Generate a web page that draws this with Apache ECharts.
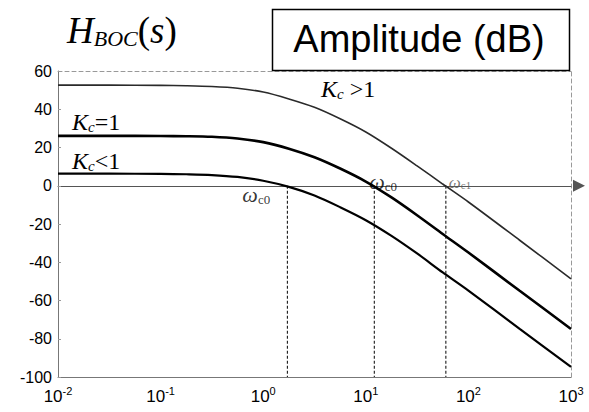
<!DOCTYPE html>
<html>
<head>
<meta charset="utf-8">
<script src="https://cdn.jsdelivr.net/npm/echarts@6/dist/echarts.min.js"></script>
<style>
  html, body { margin: 0; padding: 0; background: #fff; }
  #chart { width: 589px; height: 412px; }
</style>
</head>
<body>
<div id="chart"></div>
<script>
// Frequency points (rad/s), half-decade and quarter-decade steps
const omega = [0.01, 0.0316, 0.1, 0.178, 0.316, 0.562, 1, 1.78, 3.16, 5.62, 10, 17.8, 31.6, 56.2, 100, 316, 1000];

// Open-loop magnitude in dB for three controller gains
const gainHigh = [52.6, 52.6, 52.5, 52.3, 51.9, 51.0, 49.0, 45.4, 41.0, 35.0, 28.1, 19.6, 10.4, 0.9, -8.5, -28.5, -48.7]; // Kc > 1
const gainUnit = [26.1, 26.1, 26.0, 25.9, 25.6, 24.7, 22.8, 19.4, 14.9, 9.0, 2.2, -6.1, -15.4, -25.2, -34.9, -54.9, -74.9]; // Kc = 1
const gainLow  = [6.3, 6.3, 6.2, 6.0, 5.6, 4.6, 2.6, -0.6, -5.1, -11.2, -18.0, -26.2, -35.4, -45.3, -54.8, -74.8, -94.7];  // Kc < 1

// 0 dB crossover frequencies and their tags
const crossFreq = [1.72, 12.1, 60.3];
const crossTags = ['c0', 'c0', 'c1'];

// Axis tick labels
const xTickExp = ['-2', '-1', '0', '1', '2', '3'];
const yTicks = [60, 40, 20, 0, -20, -40, -60, -80, -100];

const SERIF = 'Liberation Serif';
const SANS = 'Liberation Sans';

const pairs = (xs, ys) => xs.map((x, i) => [x, ys[i]]);

const curve = (name, ys, color, width) => ({
  name, type: 'line', data: pairs(omega, ys),
  xAxisIndex: 0, yAxisIndex: 0,
  smooth: 0.3,
  symbol: 'none', silent: true, z: 5,
  lineStyle: { color, width }
});

const dropLine = (w) => ({
  type: 'line', data: [[w, 0], [w, -100]],
  xAxisIndex: 0, yAxisIndex: 0,
  symbol: 'none', silent: true, z: 4,
  lineStyle: { color: '#000', width: 1, type: [3, 2] }
});

const crossLabelStyle = [
  { offset: [-45, 20], w: 22, s: 13, color: '#000' },
  { offset: [-5, 7],  w: 22, s: 13, color: '#000' },
  { offset: [3, 5],   w: 17, s: 11, color: '#555' }
];

const logAxisBase = { type: 'log', logBase: 10, min: 0.01, max: 1000, gridIndex: 0, splitLine: { show: false } };

const chart = echarts.init(document.getElementById('chart'), null, { renderer: 'svg' });

chart.setOption({
  animation: false,
  backgroundColor: '#fff',
  grid: { left: 58, right: 18, top: 71, bottom: 35, containLabel: false },
  xAxis: [
    Object.assign({}, logAxisBase, {
      position: 'bottom',
      axisLine: { show: true, onZero: false, lineStyle: { color: '#777', width: 1 } },
      axisTick: { show: false },
      axisLabel: {
        margin: 8,
        showMinLabel: true, showMaxLabel: true,
        formatter: v => '{b|10}{s|' + xTickExp[Math.round(Math.log10(v)) + 2] + '}',
        rich: {
          b: { fontFamily: SANS, fontSize: 17, color: '#000', lineHeight: 20, verticalAlign: 'bottom' },
          s: { fontFamily: SANS, fontSize: 11, color: '#000', lineHeight: 11, verticalAlign: 'top' }
        }
      }
    }),
    Object.assign({}, logAxisBase, {
      position: 'top',
      axisLine: { show: true, onZero: false, lineStyle: { color: '#999', width: 1, type: [4, 3] } },
      axisTick: { show: false }, axisLabel: { show: false }
    }),
    Object.assign({}, logAxisBase, {
      position: 'bottom',
      axisLine: {
        show: true, onZero: true,
        symbol: ['none', 'triangle'], symbolSize: [12, 12], symbolOffset: [0, 8],
        lineStyle: { color: '#555', width: 1 }
      },
      axisTick: { show: false }, axisLabel: { show: false }
    })
  ],
  yAxis: [
    {
      type: 'value', min: -100, max: 60, interval: 20, position: 'left',
      axisLine: { show: true, onZero: false, lineStyle: { color: '#777', width: 1 } },
      axisTick: { show: true, inside: true, length: 3, lineStyle: { color: '#999' } },
      splitLine: { show: false },
      axisLabel: {
        margin: 6, fontFamily: SANS, fontSize: 16, color: '#000',
        formatter: v => String(yTicks[yTicks.indexOf(v)])
      }
    },
    {
      type: 'value', min: -100, max: 60, interval: 20, position: 'right',
      axisLine: { show: true, onZero: false, lineStyle: { color: '#999', width: 1, type: [4, 3] } },
      axisTick: { show: false }, axisLabel: { show: false }, splitLine: { show: false }
    }
  ],
  series: [
    curve('Kc>1', gainHigh, '#2a2a2a', 1.6),
    curve('Kc=1', gainUnit, '#000', 2.6),
    curve('Kc<1', gainLow, '#000', 2.2),
    ...crossFreq.map(dropLine),
    {
      type: 'scatter', xAxisIndex: 0, yAxisIndex: 0, silent: true, z: 6,
      symbolSize: 0,
      data: crossFreq.map((w, i) => ({
        value: [w, 0],
        label: {
          show: true, position: 'top', distance: 0,
          align: 'left', verticalAlign: 'bottom',
          offset: crossLabelStyle[i].offset,
          formatter: '{w|ω}{s|' + crossTags[i] + '}',
          rich: {
            w: { fontFamily: SERIF, fontStyle: 'italic', fontSize: crossLabelStyle[i].w, lineHeight: crossLabelStyle[i].w + 2, color: crossLabelStyle[i].color, verticalAlign: 'bottom' },
            s: { fontFamily: SERIF, fontSize: crossLabelStyle[i].s, lineHeight: crossLabelStyle[i].s, color: crossLabelStyle[i].color, verticalAlign: 'bottom' }
          }
        }
      }))
    }
  ],
  graphic: [
    {
      type: 'text', x: 67, y: 9, z: 10,
      style: {
        text: '{H|H}{b|BOC}{p|(}{q|s}{p|)}',
        align: 'left', verticalAlign: 'top',
        rich: {
          H: { fontFamily: SERIF, fontStyle: 'italic', fontSize: 37, lineHeight: 40, fill: '#000', verticalAlign: 'bottom' },
          b: { fontFamily: SERIF, fontStyle: 'italic', fontSize: 22, lineHeight: 15, fill: '#000', verticalAlign: 'bottom' },
          p: { fontFamily: SERIF, fontSize: 37, lineHeight: 40, fill: '#000', verticalAlign: 'bottom' },
          q: { fontFamily: SERIF, fontStyle: 'italic', fontSize: 37, lineHeight: 40, fill: '#000', verticalAlign: 'bottom' }
        }
      }
    },
    {
      type: 'rect', z: 9,
      shape: { x: 272.5, y: 9.5, width: 297, height: 61 },
      style: { fill: '#fff', stroke: '#000', lineWidth: 1.5 }
    },
    {
      type: 'text', x: 419, y: 39, z: 10,
      style: {
        text: 'Amplitude (dB)', fontFamily: SANS, fontSize: 38, fill: '#000',
        align: 'center', verticalAlign: 'middle'
      }
    },
    ...[
      { x: 72, y: 106, rel: '=1' },
      { x: 72, y: 145, rel: '<1' },
      { x: 321, y: 73, rel: ' >1' }
    ].map(t => ({
      type: 'text', x: t.x, y: t.y, z: 10,
      style: {
        text: '{K|K}{c|c}{r|' + t.rel + '}',
        align: 'left', verticalAlign: 'top',
        rich: {
          K: { fontFamily: SERIF, fontStyle: 'italic', fontSize: 24, lineHeight: 28, fill: '#000', verticalAlign: 'bottom' },
          c: { fontFamily: SERIF, fontStyle: 'italic', fontSize: 15, lineHeight: 15, fill: '#000', verticalAlign: 'bottom' },
          r: { fontFamily: SERIF, fontSize: 24, lineHeight: 28, fill: '#000', verticalAlign: 'bottom' }
        }
      }
    }))
  ]
});
</script>
</body>
</html>
